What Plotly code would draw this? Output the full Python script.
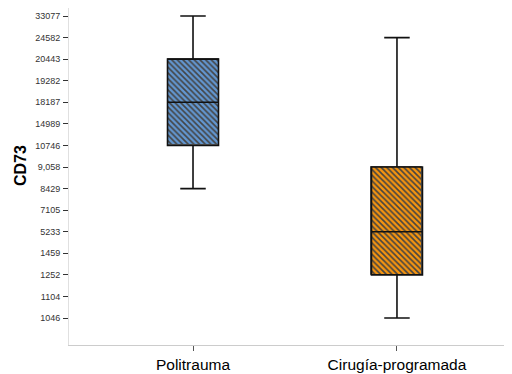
import plotly.graph_objects as go

# Ordinal y-axis tick labels (bottom to top)
tick_labels = ["1046", "1104", "1252", "1459", "5233", "7105", "8429", "9,058",
               "10746", "14989", "18187", "19282", "20443", "24582", "33077"]
groups = ["Politrauma", "Cirugía-programada"]
lower_w = ["8429", "1046"]
q1_v = ["10746", "1252"]
median_v = ["18187", "5233"]
q3_v = ["20443", "9,058"]
upper_w = ["33077", "24582"]

base_colors = ["#6296d0", "#f5940f"]
hatch_colors = ["#2a4566", "#6a3a08"]

pos = lambda v: tick_labels.index(v)
L = [pos(v) for v in lower_w]
Q1 = [pos(v) for v in q1_v]
MED = [pos(v) for v in median_v]
Q3 = [pos(v) for v in q3_v]
U = [pos(v) for v in upper_w]

fig = go.Figure()
fig.add_trace(go.Bar(
    x=groups, y=[b - a for a, b in zip(Q1, Q3)], base=Q1, width=0.25,
    marker=dict(color=base_colors,
                line=dict(color="#555555", width=1),
                pattern=dict(shape="\\", size=4, solidity=0.4,
                             fgcolor=hatch_colors, fgopacity=1,
                             fillmode="overlay")),
    showlegend=False, hoverinfo="skip"))
fig.add_trace(go.Box(
    x=groups, q1=Q1, median=MED, q3=Q3, lowerfence=L, upperfence=U,
    width=0.25, whiskerwidth=0.5, fillcolor="rgba(0,0,0,0)",
    line=dict(color="#111111", width=1.6), showlegend=False))

W, H = 504, 366          # page body has an 8px margin
L_M, B_M = 61, 29
plot_h = H - B_M
fig.add_annotation(text="<b>CD73</b>", xref="paper", yref="paper",
                   x=(12 - L_M) / (W - L_M), y=1 - 158 / plot_h,
                   xanchor="center", yanchor="middle",
                   showarrow=False, textangle=-90,
                   font=dict(family="Liberation Sans, Arial", size=16, color="#000"))

fig.update_layout(
    width=W, height=H,
    margin=dict(l=L_M, r=0, t=0, b=B_M, autoexpand=False),
    paper_bgcolor="white", plot_bgcolor="white",
    font=dict(family="Liberation Sans, Arial", color="#000"),
    bargap=0,
    xaxis=dict(range=[-0.608, 1.564], showgrid=False, zeroline=False,
               showline=True, linecolor="#cccccc", linewidth=1,
               ticks="outside", ticklen=5, tickcolor="#555555",
               tickfont=dict(size=15.5), automargin=False, fixedrange=True),
    yaxis=dict(range=[-1.25, 14.371], showgrid=False, zeroline=False,
               showline=True, linecolor="#e0e0e0", linewidth=1,
               tickmode="array", tickvals=list(range(len(tick_labels))),
               ticktext=tick_labels, ticks="outside", ticklen=5,
               tickcolor="#333333", tickfont=dict(size=9, color="#333"),
               ticklabelstandoff=1, automargin=False),
)

fig.write_html("out.html")
